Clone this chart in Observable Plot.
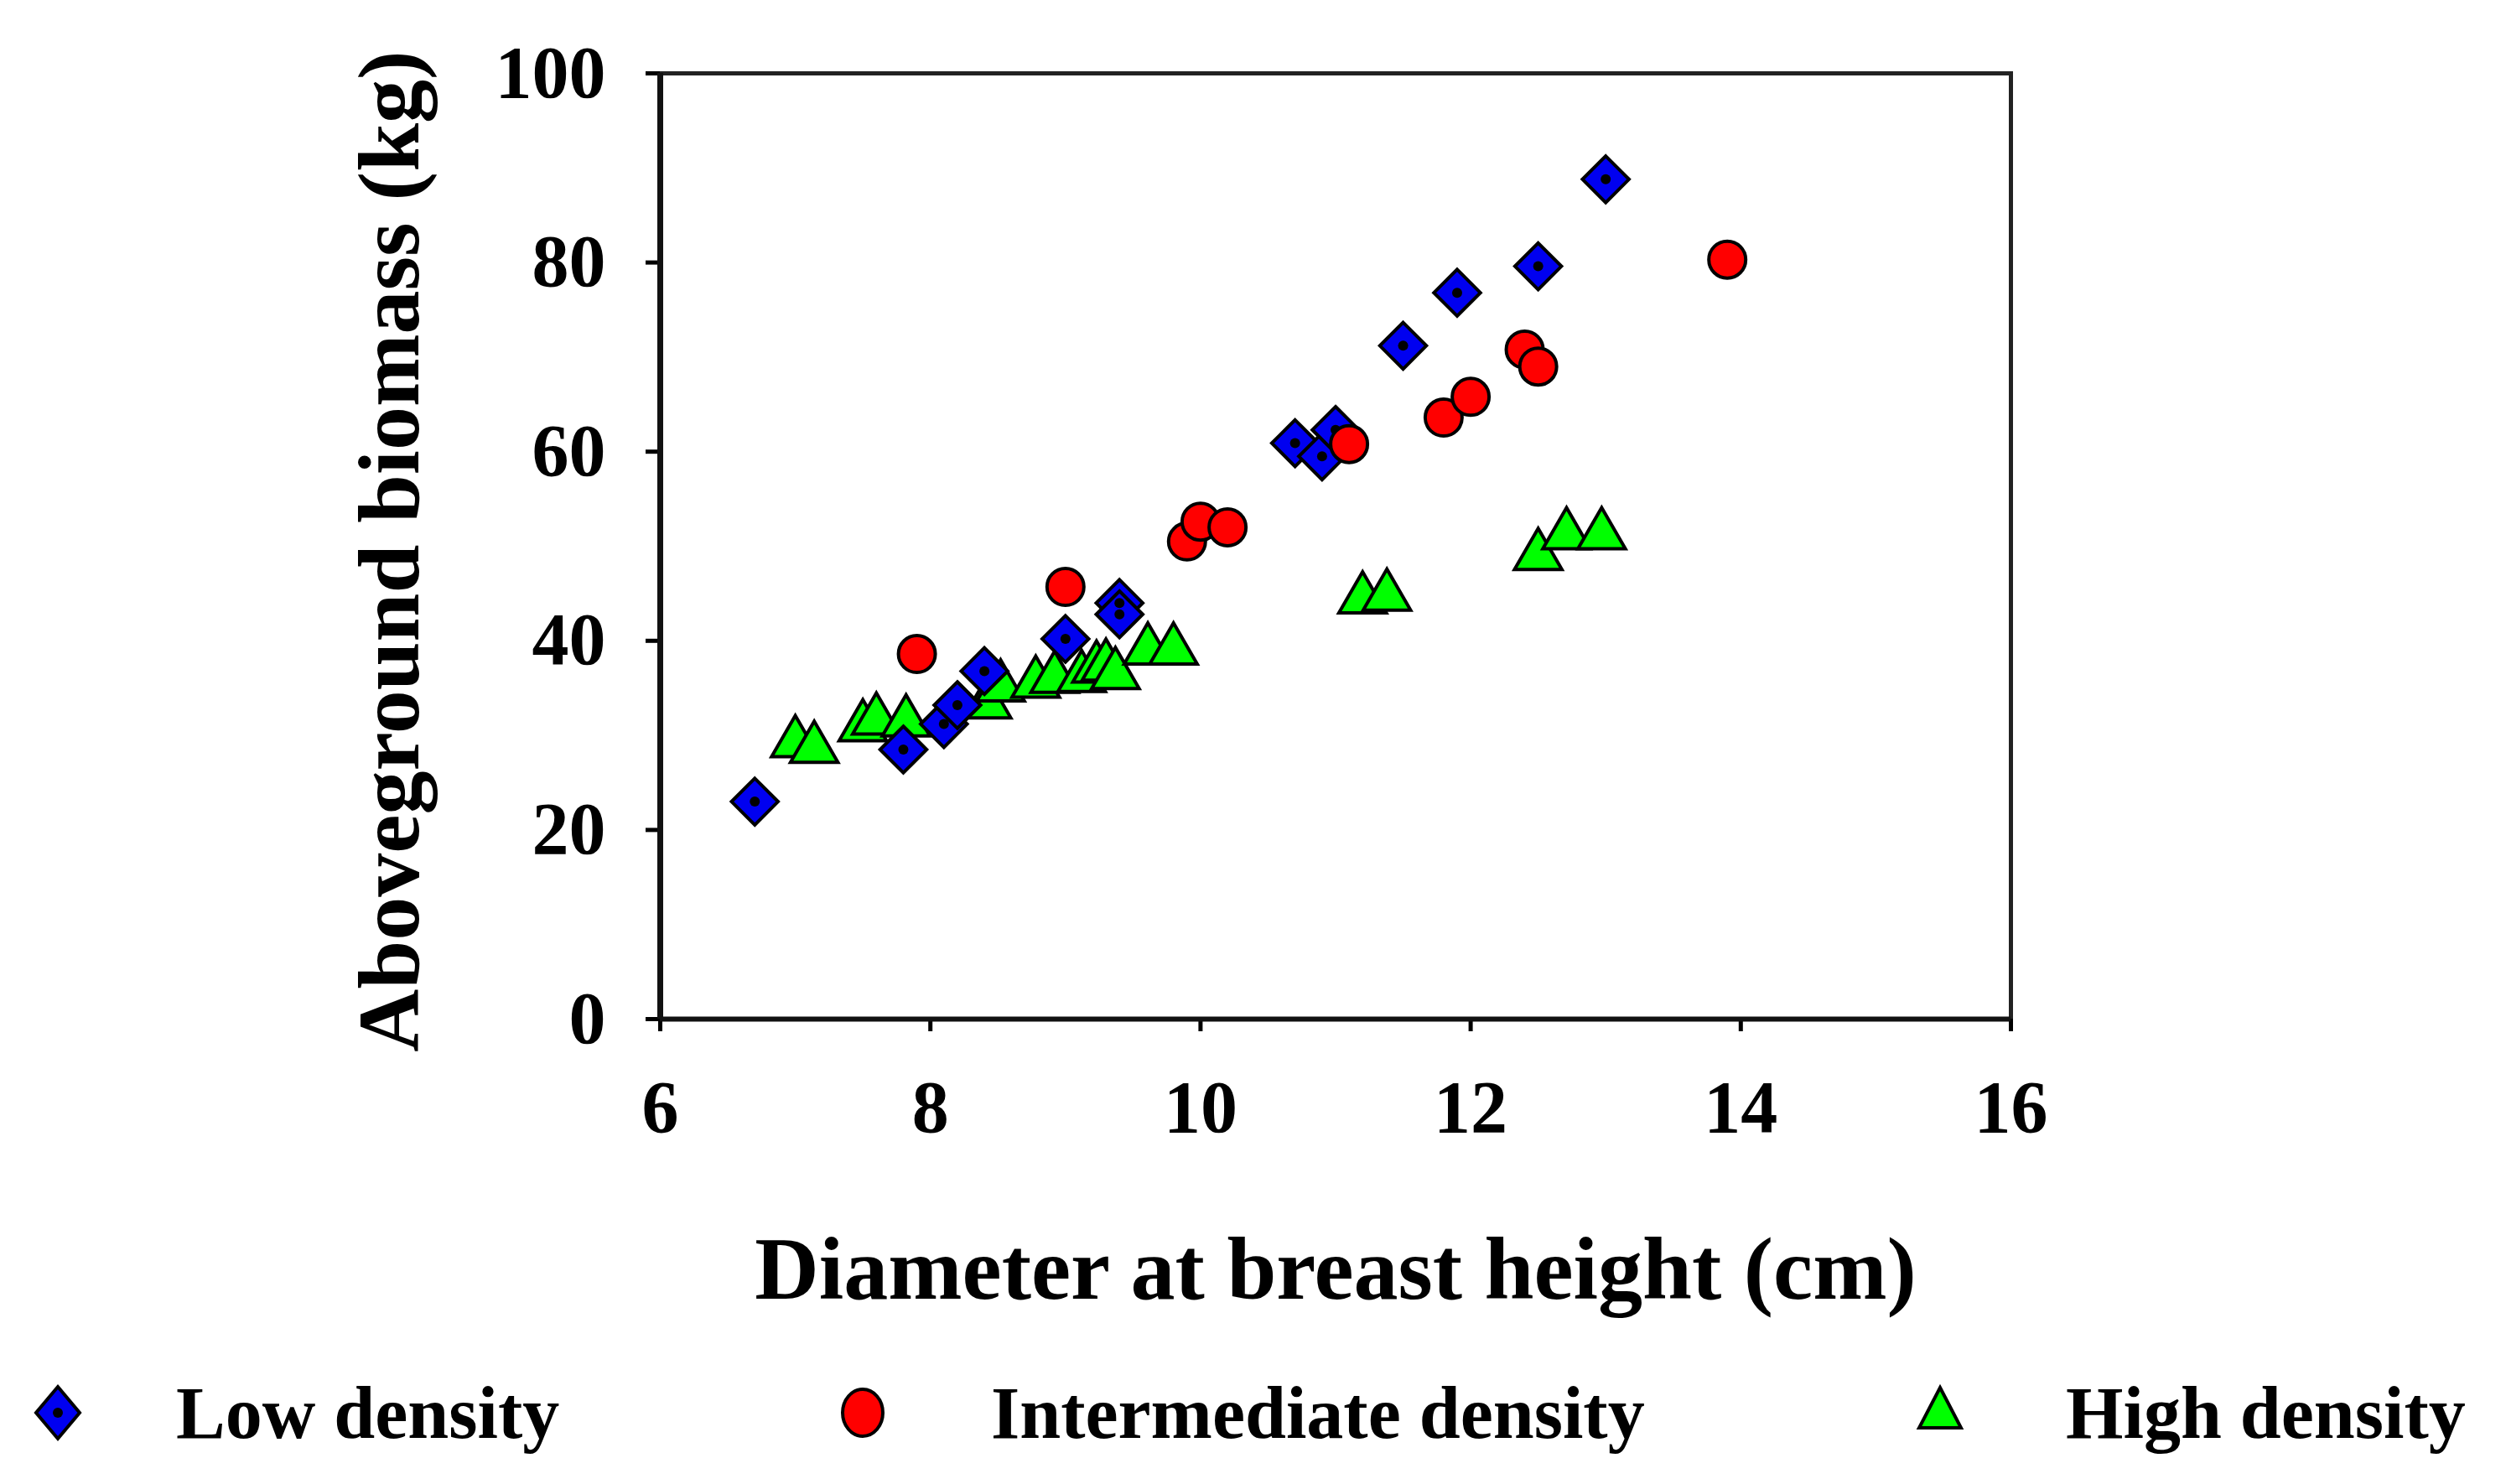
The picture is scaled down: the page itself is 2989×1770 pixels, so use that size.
<!DOCTYPE html>
<html>
<head>
<meta charset="utf-8">
<script src="https://cdn.jsdelivr.net/npm/d3@7"></script>
<script src="https://cdn.jsdelivr.net/npm/@observablehq/plot@0.6"></script>
<style>
  body { margin: 0; background: #ffffff; }
  #wrap { position: relative; width: 2989px; height: 1770px; background: #fff; overflow: hidden; }
  #chart { position: absolute; left: 0; top: 0; }
  #legend { position: absolute; left: 0; top: 1630px; }
</style>
</head>
<body>
<div id="wrap">
  <div id="chart"></div>
  <svg id="legend" width="2989" height="140"></svg>
</div>
<script>
// ---- Data ----
const seriesNames = ["Low density", "Intermediate density", "High density"];
const seriesColors = ["#0000f0", "#ff0000", "#00ff00"];

const lowX = [6.7, 7.8, 8.1, 8.2, 8.4, 9.0, 9.4, 9.4, 10.7, 10.9, 11.0, 11.5, 11.9, 12.5, 13.0];
const lowY = [23.0, 28.5, 31.2, 33.2, 36.8, 40.2, 44.0, 42.8, 60.9, 59.5, 62.3, 71.2, 76.8, 79.6, 88.8];

const intX = [7.9, 9.0, 9.9, 10.0, 10.2, 11.1, 11.8, 12.0, 12.4, 12.5, 13.9];
const intY = [38.6, 45.7, 50.5, 52.6, 52.0, 60.8, 63.6, 65.8, 70.8, 69.0, 80.3];

const highX = [7.0, 7.14, 7.5, 7.6, 7.82, 8.42, 8.52, 8.78, 8.92, 9.12, 9.23, 9.3, 9.37, 9.61, 9.8, 11.2, 11.38, 12.5, 12.71, 12.97];
const highY = [29.9, 29.3, 31.6, 32.3, 32.1, 34.0, 35.8, 36.2, 36.7, 36.8, 37.8, 38.0, 37.1, 39.7, 39.7, 45.1, 45.4, 49.7, 51.9, 51.9];

const xTicks = [6, 8, 10, 12, 14, 16];
const yTicks = [0, 20, 40, 60, 80, 100];
const xTitle = "Diameter at breast height (cm)";
const yTitle = "Aboveground biomass (kg)";

// ---- Build tables ----
const low = lowX.map((x, i) => ({x, y: lowY[i]}));
const inter = intX.map((x, i) => ({x, y: intY[i]}));
const high = highX.map((x, i) => ({x, y: highY[i]}));

const font = "'Liberation Serif', 'Times New Roman', serif";

const W = 2989, H = 1600;
const chart = Plot.plot({
  width: W,
  height: H,
  marginLeft: 787,
  marginRight: 591,
  marginTop: 87,
  marginBottom: H - 1215,
  style: { background: "#fff", fontFamily: font, color: "#000" },
  x: { domain: [6, 16], label: null },
  y: { domain: [0, 100], label: null },
  marks: [
    Plot.frame({ stroke: "#222", strokeWidth: 5 }),
    Plot.axisX({ ticks: xTicks, tickSize: 15, tickPadding: 57, strokeWidth: 5, fontSize: 88,
                 fontWeight: "bold", fontFamily: font, label: null, tickFormat: d => d }),
    Plot.axisY({ ticks: yTicks, tickSize: 17, tickPadding: 48, strokeWidth: 5, fontSize: 88,
                 fontWeight: "bold", fontFamily: font, label: null, tickFormat: d => d }),
    Plot.ruleX([6], { stroke: "#111", strokeWidth: 7 }),
    Plot.ruleY([0], { stroke: "#111", strokeWidth: 6 }),
    Plot.text([xTitle], { frameAnchor: "bottom", dy: 300, lineAnchor: "middle", textAnchor: "middle",
                          fontSize: 106, fontWeight: "bold", fontFamily: font, fill: "#000" }),
    Plot.text([yTitle], { frameAnchor: "left", dx: -322, dy: 6, rotate: -90, lineAnchor: "middle",
                          textAnchor: "middle", fontSize: 104, fontWeight: "bold", fontFamily: font, fill: "#000" }),
    // High density triangles
    Plot.dot(high, { x: "x", y: "y", symbol: "triangle", r: 21, dy: 8, fill: seriesColors[2],
                     stroke: "#000", strokeWidth: 4 }),
    // Low density diamonds
    Plot.dot(low, { x: "x", y: "y", symbol: "diamond2", r: 25, fill: seriesColors[0],
                    stroke: "#000", strokeWidth: 4 }),
    Plot.dot(low, { x: "x", y: "y", r: 6, fill: "#000" }),
    // Intermediate density circles
    Plot.dot(inter, { x: "x", y: "y", symbol: "circle", r: 22, fill: seriesColors[1],
                      stroke: "#000", strokeWidth: 4 })
  ]
});
document.getElementById("chart").appendChild(chart);

// ---- Legend (below the chart) ----
const leg = d3.select("#legend");
const legendItems = [
  { name: seriesNames[0], color: seriesColors[0], shape: "diamond", mx: 69, tx: 210 },
  { name: seriesNames[1], color: seriesColors[1], shape: "circle", mx: 1029, tx: 1182 },
  { name: seriesNames[2], color: seriesColors[2], shape: "triangle", mx: 2314, tx: 2464 }
];
const cy = 55;
legendItems.forEach(it => {
  if (it.shape === "diamond") {
    leg.append("path")
      .attr("d", `M${it.mx},${cy - 31} L${it.mx + 26},${cy} L${it.mx},${cy + 31} L${it.mx - 26},${cy} Z`)
      .attr("fill", it.color).attr("stroke", "#000").attr("stroke-width", 4);
    leg.append("circle").attr("cx", it.mx).attr("cy", cy).attr("r", 6).attr("fill", "#000");
  } else if (it.shape === "circle") {
    leg.append("ellipse").attr("cx", it.mx).attr("cy", cy).attr("rx", 24).attr("ry", 28)
      .attr("fill", it.color).attr("stroke", "#000").attr("stroke-width", 4);
  } else {
    leg.append("path")
      .attr("d", `M${it.mx},${cy - 30} L${it.mx + 25},${cy + 18} L${it.mx - 25},${cy + 18} Z`)
      .attr("fill", it.color).attr("stroke", "#000").attr("stroke-width", 4);
  }
  leg.append("text").attr("x", it.tx).attr("y", 85)
    .attr("font-family", font).attr("font-weight", "bold").attr("font-size", 88)
    .attr("fill", "#000").text(it.name);
});
</script>
</body>
</html>
